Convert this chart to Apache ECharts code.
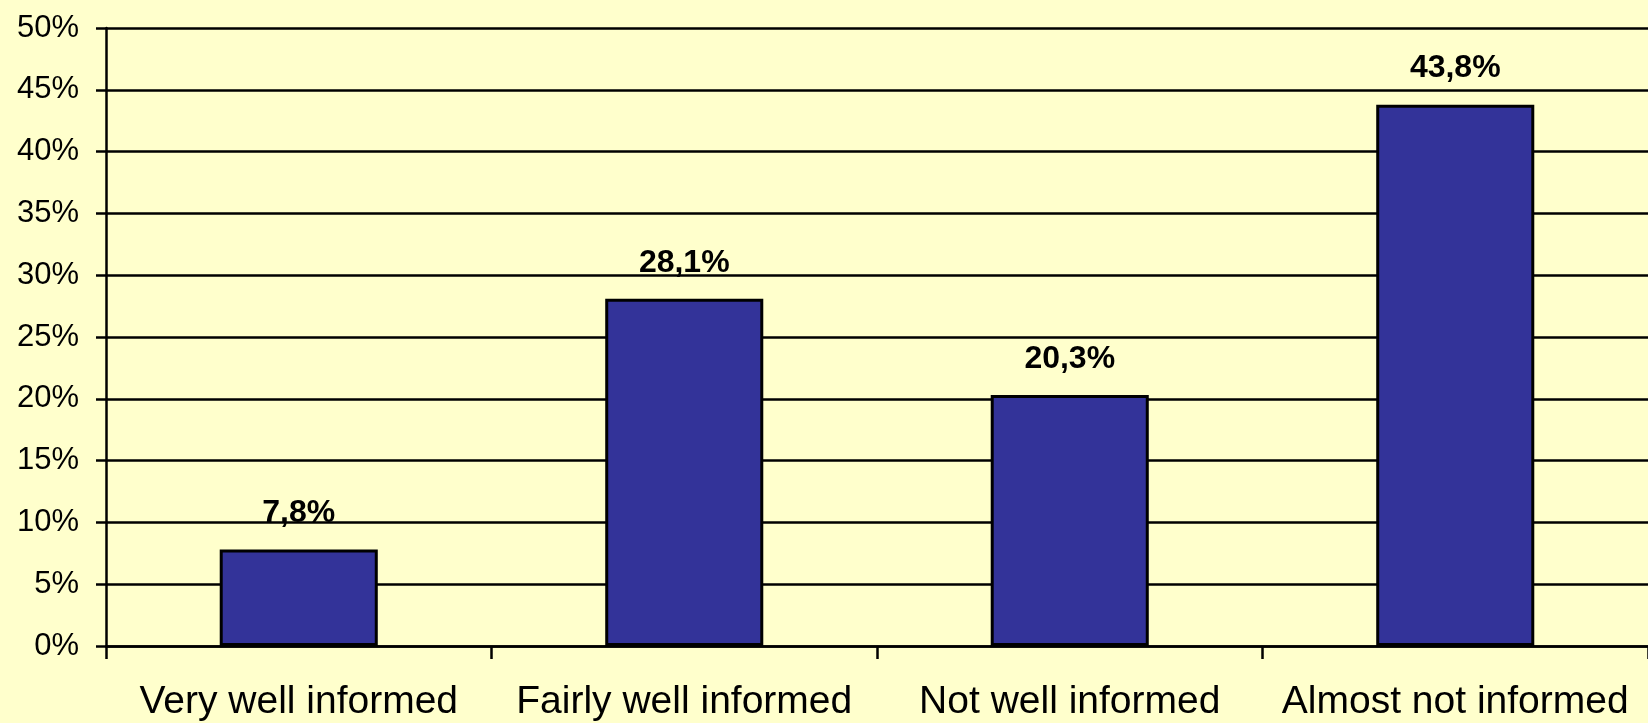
<!DOCTYPE html>
<html>
<head>
<meta charset="utf-8">
<script src="https://cdn.jsdelivr.net/npm/echarts@6/dist/echarts.min.js"></script>
<style>
html, body { margin: 0; padding: 0; background: #FFFFCC; }
#chartBar { width: 1648px; height: 723px; }
</style>
</head>
<body>
<div id="chartBar"></div>
<script>
// data
var categories = ['Very well informed', 'Fairly well informed', 'Not well informed', 'Almost not informed'];
var shares = [7.8, 28.1, 20.3, 43.8];
var yTicks = [0, 5, 10, 15, 20, 25, 30, 35, 40, 45, 50];

var myChart = echarts.init(document.getElementById('chartBar'));
var font = '"Liberation Sans", Arial, sans-serif';
var option = {
    backgroundColor: '#FFFFCC',
    animation: false,
    grid: {
        top: 28,
        left: 106,
        right: 0,
        bottom: 77
    },
    xAxis: [{
        type: 'category',
        data: categories,
        axisLine: {
            show: true,
            lineStyle: { color: '#000', width: 2.5 }
        },
        axisTick: {
            show: true,
            length: 13,
            lineStyle: { color: '#000', width: 2.5 }
        },
        axisLabel: {
            color: '#000',
            fontFamily: font,
            fontSize: 39,
            margin: 37,
            interval: 0
        },
        splitLine: { show: false }
    }],
    yAxis: [{
        type: 'value',
        min: yTicks[0],
        max: yTicks[yTicks.length - 1],
        interval: 5,
        axisLine: {
            show: true,
            lineStyle: { color: '#000', width: 2.5 }
        },
        axisTick: {
            show: true,
            length: 10,
            lineStyle: { color: '#000', width: 2.5 }
        },
        axisLabel: {
            color: '#000',
            fontFamily: font,
            fontSize: 31,
            margin: 27,
            formatter: function (v) { return v + '%'; }
        },
        splitLine: {
            show: true,
            lineStyle: { color: '#000', width: 2.5 }
        }
    }],
    series: [{
        type: 'bar',
        data: shares,
        barWidth: '41%',
        itemStyle: {
            color: '#333399',
            borderColor: '#000',
            borderWidth: 3
        },
        label: {
            show: true,
            position: 'top',
            distance: 20,
            color: '#000',
            fontFamily: font,
            fontSize: 32,
            fontWeight: 'bold',
            formatter: function (p) { return p.value.toFixed(1).replace('.', ',') + '%'; }
        }
    }]
};
myChart.setOption(option);
</script>
</body>
</html>
